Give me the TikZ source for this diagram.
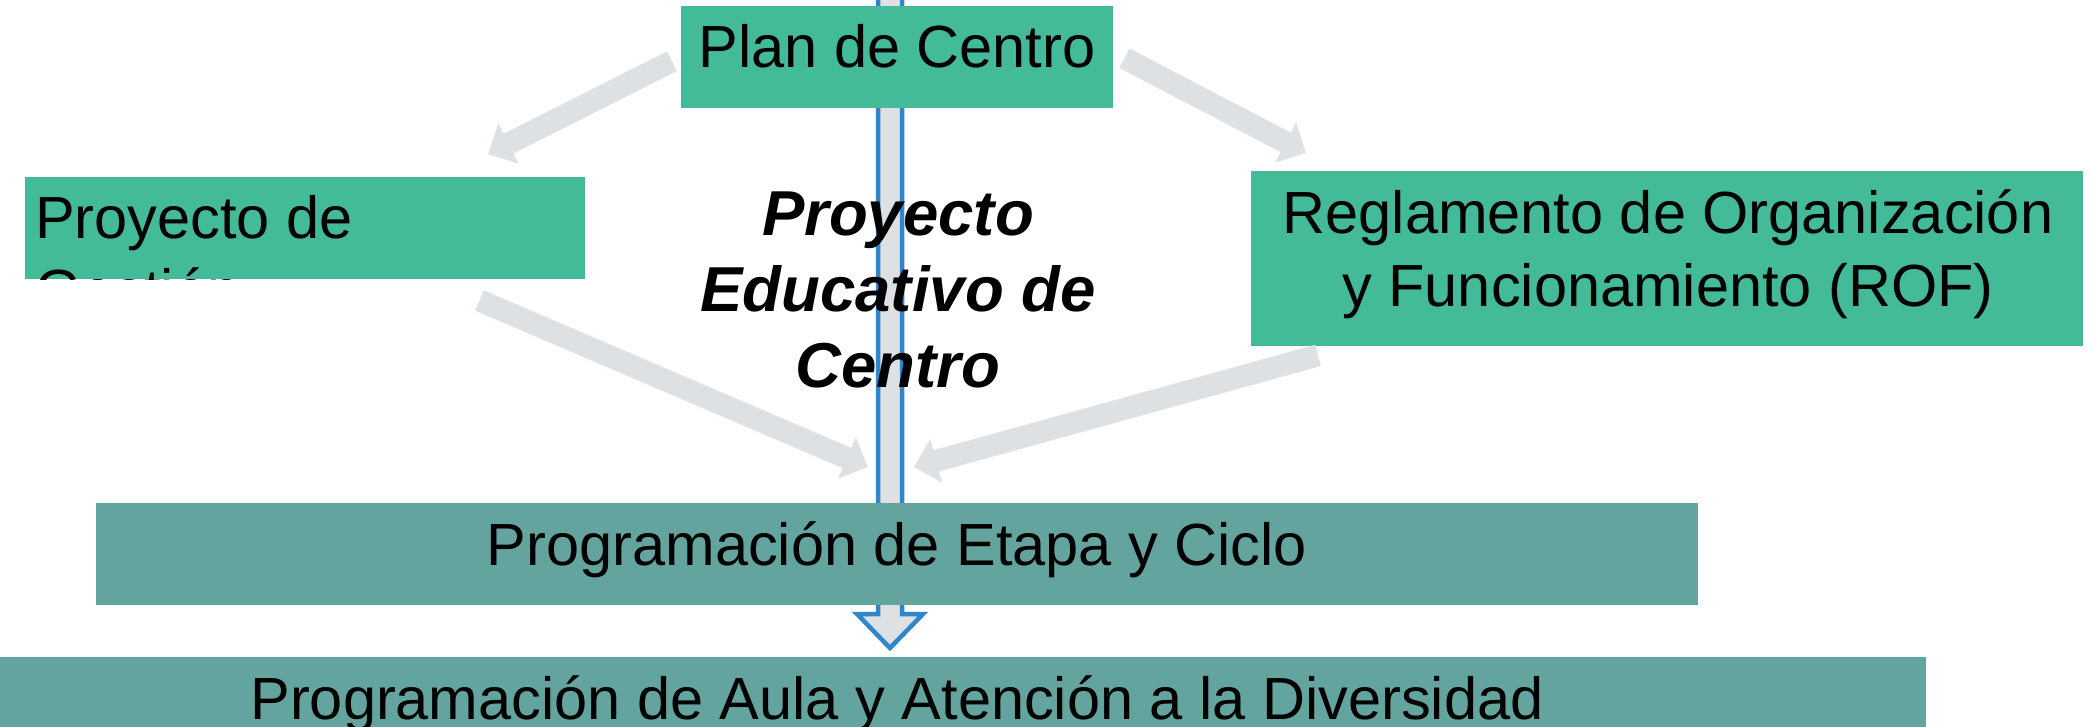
\documentclass[tikz,border=0pt]{standalone}
\usepackage{fontspec}
\setmainfont{Liberation Sans}
\usepackage{tikz}
\usetikzlibrary{arrows.meta}
\definecolor{verde}{HTML}{43BA98}
\definecolor{verdeazul}{HTML}{64A49F}
\definecolor{gris}{HTML}{DEE1E4}
\definecolor{azul}{HTML}{2F86CA}

\begin{document}
\begin{tikzpicture}[x=1pt,y=-1pt,
        caja/.style={fill=verde, inner sep=0, anchor=north west},
        cajaprog/.style={fill=verdeazul, inner sep=0, anchor=north west},
        texto/.style={font=\fontsize{59.5}{73}\selectfont, inner sep=0},
        flecha/.style={draw=gris, line width=22pt, -{Triangle[length=23pt,width=44pt]}}]
            \useasboundingbox (0,0) rectangle (2094,727);
            % flecha vertical
            \draw[azul, line width=4.5pt, fill=gris] (878,-20) -- (878,614) -- (857,614) -- (890,648) -- (923,614) -- (902,614) -- (902,-20) -- cycle;
            % cajas
            \node[caja, minimum width=432, minimum height=102] (plan) at (681,6) {};
            \node[caja, minimum width=560, minimum height=102] (gestion) at (25,177) {};
            \node[caja, minimum width=832, minimum height=175] (rof) at (1251,171) {};
            \node[cajaprog, minimum width=1602, minimum height=102] (etapa) at (96,503) {};
            \node[cajaprog, minimum width=1926, minimum height=90] (aula) at (0,657) {};
            % textos
            \node[texto, anchor=base] (plantxt) at (897,68) {Plan de Centro};
            \begin{scope}
                \clip (gestion.north west) rectangle (gestion.south east);
                \node[texto, anchor=base west, align=left] (gestiontxt) at (35,312) {Proyecto de\\Gesti\'on};
            \end{scope}
            \node[texto, anchor=base, align=center] (roftxt) at (1668,307) {Reglamento de Organizaci\'on\\y Funcionamiento (ROF)};
            \node[texto, anchor=base] (etapatxt) at (897,565) {Programaci\'on de Etapa y Ciclo};
            \node[texto, anchor=base] (aulatxt) at (897,719) {Programaci\'on de Aula y Atenci\'on a la Diversidad};
            % flechas grises
            \coordinate (g1) at (488,154);
            \coordinate (g2) at (1306,153);
            \coordinate (g3) at (868,467);
            \coordinate (g4) at (914,467);
            \draw[flecha] ([shift={(-9,4)}]plan.west) -- (g1);
            \draw[flecha] ([shift={(11,1)}]plan.east) -- (g2);
            \draw[flecha] ([shift={(-106,21)}]gestion.south east) -- (g3);
            \draw[flecha] ([shift={(67,9)}]rof.south west) -- (g4);
            \node[anchor=base, align=center, inner sep=0, font=\fontsize{63.5}{76}\selectfont\bfseries\itshape] (pec) at (898,387) {Proyecto\\Educativo de\\Centro};
        \end{tikzpicture}
\end{document}
